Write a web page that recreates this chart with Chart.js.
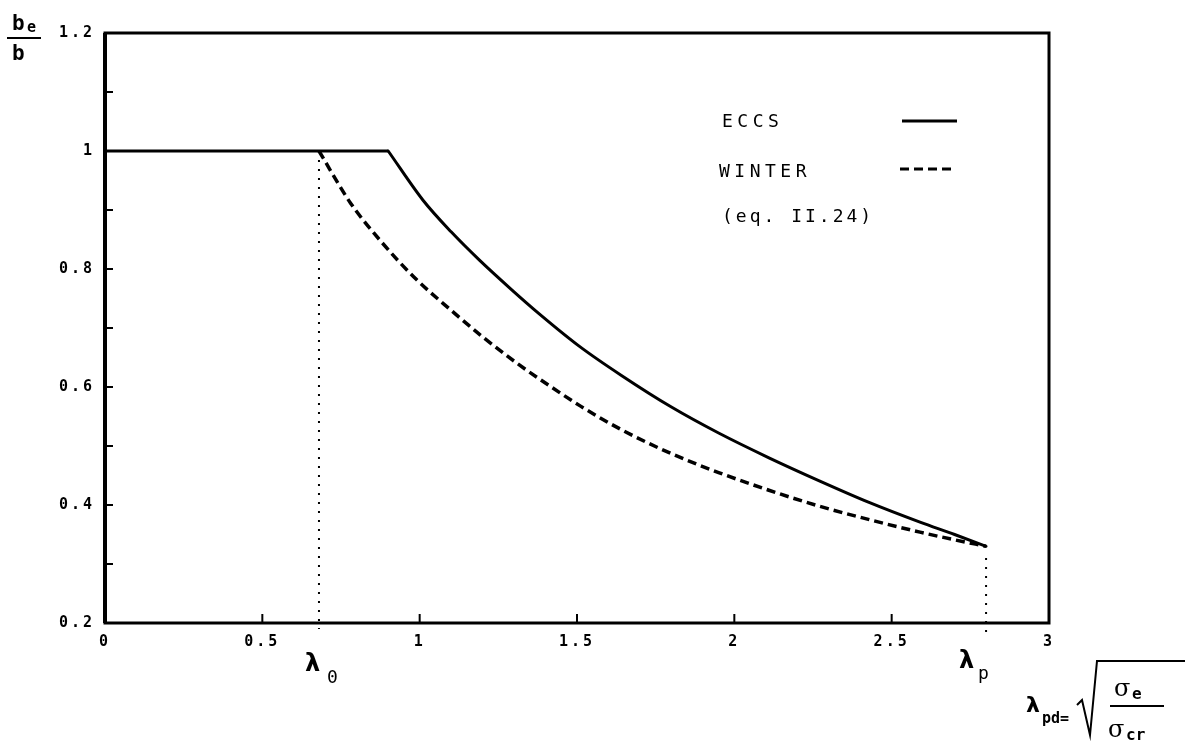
<!DOCTYPE html>
<html>
<head>
<meta charset="utf-8">
<script src="https://cdn.jsdelivr.net/npm/chart.js@4.4.1/dist/chart.umd.min.js"></script>
<style>
  body { margin: 0; background: #fff; }
  #wrap { width: 1190px; height: 741px; }
</style>
</head>
<body>
<div id="wrap"><canvas id="chart"></canvas></div>
<script>
// values (lambda_pd, b_e/b)
const eccsX = [0, 0.9, 1.01, 1.1, 1.19, 1.29, 1.38, 1.51, 1.64, 1.8, 1.95, 2.11, 2.27, 2.43, 2.59, 2.7, 2.8];
const eccsY = [1, 1, 0.917, 0.863, 0.815, 0.766, 0.724, 0.668, 0.62, 0.566, 0.522, 0.48, 0.441, 0.404, 0.371, 0.35, 0.33];
const winterX = [0.68, 0.78, 0.88, 0.99, 1.1, 1.2, 1.31, 1.41, 1.51, 1.64, 1.8, 1.95, 2.11, 2.27, 2.43, 2.59, 2.7, 2.8];
const winterY = [1, 0.912, 0.845, 0.782, 0.73, 0.685, 0.64, 0.603, 0.568, 0.528, 0.487, 0.455, 0.425, 0.398, 0.375, 0.354, 0.341, 0.33];
const lambda0 = 0.68;
const lambdaP = 2.8;
const xTickLabels = ["0", "0.5", "1", "1.5", "2", "2.5", "3"];
const yTickLabels = ["0.2", "", "0.4", "", "0.6", "", "0.8", "", "1", "", "1.2"];

function toPoints(xs, ys) {
  let pts = [];
  for (let i = 0; i < xs.length; i++) pts.push({ x: xs[i], y: ys[i] });
  return pts;
}

// ECCS has a sharp knee at 0.9: plateau and curve are drawn as two pieces
let eccsPts = toPoints(eccsX, eccsY);
let eccsFlat = eccsPts.slice(0, 2);
let eccsCurve = eccsPts.slice(1);

// wide plotter style lettering for the tick labels
const spacing = {
  id: "spacing",
  beforeDraw: (chart) => {
    chart.ctx.letterSpacing = "3px";
  },
};

// frame, inward ticks and the hand lettered annotations
const decor = {
  id: "decor",
  afterDatasetsDraw: (chart) => {
    const { ctx, chartArea: a } = chart;
    const xs = chart.scales.x, ys = chart.scales.y;
    ctx.save();
    ctx.strokeStyle = "#000";
    ctx.fillStyle = "#000";
    ctx.lineWidth = 3;
    ctx.strokeRect(a.left, a.top, a.right - a.left, a.bottom - a.top);
    ctx.lineWidth = 4;
    ctx.beginPath(); ctx.moveTo(a.left, a.top); ctx.lineTo(a.left, a.bottom); ctx.stroke();
    ctx.lineWidth = 2;
    ys.ticks.forEach((t) => {
      let py = ys.getPixelForValue(t.value);
      ctx.beginPath(); ctx.moveTo(a.left, py); ctx.lineTo(a.left + 8, py); ctx.stroke();
    });
    xs.ticks.forEach((t) => {
      let px = xs.getPixelForValue(t.value);
      ctx.beginPath(); ctx.moveTo(px, a.bottom); ctx.lineTo(px, a.bottom - 9); ctx.stroke();
    });

    ctx.textBaseline = "alphabetic";
    ctx.letterSpacing = "0px";
    // y axis title b_e / b
    ctx.font = "bold 21px 'DejaVu Sans Mono'";
    ctx.fillText("b", 12, 30);
    ctx.font = "bold 15px 'DejaVu Sans Mono'";
    ctx.fillText("e", 27, 32);
    ctx.lineWidth = 2;
    ctx.beginPath(); ctx.moveTo(7, 38); ctx.lineTo(41, 38); ctx.stroke();
    ctx.font = "bold 21px 'DejaVu Sans Mono'";
    ctx.fillText("b", 12, 60);

    // legend
    ctx.font = "18px 'DejaVu Sans Mono'";
    ctx.letterSpacing = "4.5px";
    ctx.fillText("ECCS", 722, 127);
    ctx.fillText("WINTER", 719, 177);
    ctx.letterSpacing = "3px";
    ctx.fillText("(eq. II.24)", 722, 222);
    ctx.letterSpacing = "0px";
    ctx.lineWidth = 3;
    ctx.beginPath(); ctx.moveTo(902, 121); ctx.lineTo(957, 121); ctx.stroke();
    ctx.setLineDash([9, 5]);
    ctx.beginPath(); ctx.moveTo(900, 169); ctx.lineTo(951, 169); ctx.stroke();
    ctx.setLineDash([]);

    // lambda labels
    let l0 = xs.getPixelForValue(lambda0);
    let lp = xs.getPixelForValue(lambdaP);
    ctx.font = "bold 24px 'DejaVu Sans'";
    ctx.fillText("λ", l0 - 14, 671);
    ctx.fillText("λ", lp - 27, 668);
    ctx.font = "18px 'DejaVu Sans Mono'";
    ctx.fillText("0", l0 + 8, 683);
    ctx.fillText("p", lp - 8, 679);

    // lambda_pd = sqrt(sigma_e / sigma_cr)
    ctx.font = "bold 22px 'DejaVu Sans'";
    ctx.fillText("λ", 1026, 712);
    ctx.font = "bold 15px 'DejaVu Sans Mono'";
    ctx.fillText("pd=", 1042, 723);
    ctx.lineWidth = 2;
    ctx.beginPath();
    ctx.moveTo(1077, 705); ctx.lineTo(1082, 700); ctx.lineTo(1090, 735);
    ctx.lineTo(1097, 661); ctx.lineTo(1185, 661);
    ctx.stroke();
    ctx.font = "24px 'DejaVu Serif'";
    ctx.fillText("σ", 1114, 696);
    ctx.fillText("σ", 1108, 737);
    ctx.font = "bold 16px 'DejaVu Sans Mono'";
    ctx.fillText("e", 1132, 699);
    ctx.fillText("cr", 1126, 740);
    ctx.beginPath(); ctx.moveTo(1110, 706); ctx.lineTo(1164, 706); ctx.stroke();
    ctx.restore();
  },
};

const ctx = document.getElementById("chart");
new Chart(ctx, {
  type: "scatter",
  data: {
    datasets: [
      {
        label: "ECCS",
        data: eccsFlat,
        showLine: true,
        borderColor: "#000",
        borderWidth: 3,
        pointRadius: 0,
      },
      {
        label: "ECCS curve",
        data: eccsCurve,
        showLine: true,
        borderColor: "#000",
        borderWidth: 3,
        borderCapStyle: "round",
        pointRadius: 0,
        cubicInterpolationMode: "monotone",
      },
      {
        label: "WINTER",
        data: toPoints(winterX, winterY),
        showLine: true,
        borderColor: "#000",
        borderWidth: 3.5,
        borderDash: [9, 5],
        pointRadius: 0,
        cubicInterpolationMode: "monotone",
      },
      {
        label: "lambda0",
        data: [{ x: lambda0, y: 1 }, { x: lambda0, y: 0.19 }],
        showLine: true,
        borderColor: "#000",
        borderWidth: 2,
        borderDash: [2, 7],
        pointRadius: 0,
        clip: false,
      },
      {
        label: "lambdap",
        data: [{ x: lambdaP, y: 0.31 }, { x: lambdaP, y: 0.18 }],
        showLine: true,
        borderColor: "#000",
        borderWidth: 2,
        borderDash: [2, 7],
        pointRadius: 0,
        clip: false,
      },
    ],
  },
  options: {
    responsive: true,
    maintainAspectRatio: false,
    animation: false,
    layout: { padding: { top: 33, right: 141, left: 0, bottom: 0 } },
    plugins: { legend: { display: false }, tooltip: { enabled: false } },
    scales: {
      x: {
        type: "linear",
        min: 0,
        max: 3,
        afterFit: (s) => { s.height = 118; },
        grid: { display: false, drawTicks: false },
        border: { display: false },
        ticks: {
          stepSize: 0.5,
          padding: 10,
          color: "#000",
          font: { family: "DejaVu Sans Mono", size: 15, weight: "bold" },
          maxRotation: 0,
          callback: (v, i) => xTickLabels[i],
        },
      },
      y: {
        type: "linear",
        min: 0.2,
        max: 1.2,
        afterFit: (s) => { s.width = 105; },
        grid: { display: false, drawTicks: false },
        border: { display: false },
        ticks: {
          stepSize: 0.1,
          padding: 10,
          autoSkip: false,
          color: "#000",
          font: { family: "DejaVu Sans Mono", size: 15, weight: "bold" },
          callback: (v, i) => yTickLabels[i],
        },
      },
    },
  },
  plugins: [spacing, decor],
});
</script>
</body>
</html>
